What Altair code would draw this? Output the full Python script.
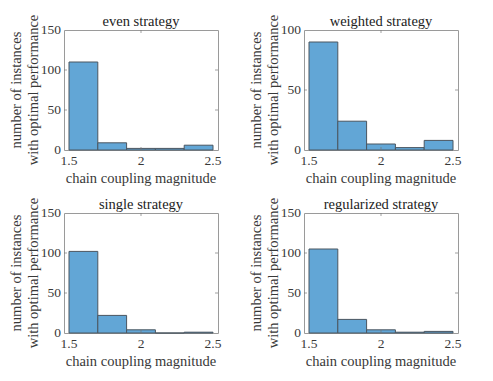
import altair as alt
import pandas as pd

bin_lo = [1.5, 1.7, 1.9, 2.1, 2.3]
bin_hi = [1.7, 1.9, 2.1, 2.3, 2.5]
even = [110, 9, 2, 2, 6]
weighted = [90, 24, 5, 2, 8]
single = [102, 22, 4, 0, 1]
regularized = [105, 17, 4, 1, 2]

titles = ["even strategy", "weighted strategy", "single strategy", "regularized strategy"]
series = [even, weighted, single, regularized]
y_max = [150, 100, 150, 150]
y_ticks = [[0, 50, 100, 150], [0, 50, 100], [0, 50, 100, 150], [0, 50, 100, 150]]
x_ticks = [1.5, 2.0, 2.5]
x_tick_labels = ["1.5", "2", "2.5"]
x_title = "chain coupling magnitude"
y_title = ["number of instances", "with optimal performance"]

FONT = "Liberation Serif"
TXT = "#383838"
W, H = 154, 120
LAB = 13.5
TIT = 14.5


def panel(title, counts, ymax, yt):
    df = pd.DataFrame({"lo": bin_lo, "hi": bin_hi, "count": counts})
    xscale = alt.Scale(domain=[1.5, 2.5], nice=False)
    yscale = alt.Scale(domain=[0, ymax], nice=False)
    x = alt.X("lo:Q", scale=xscale, axis=None)
    y = alt.Y("count:Q", scale=yscale, axis=None)
    bars = alt.Chart(df).mark_bar(color="#62a6d6", stroke="#4a5660", strokeWidth=1,
                                  opacity=1, orient="vertical").encode(x=x, x2="hi:Q", y=y, y2=alt.datum(0))
    tdf = pd.DataFrame({"t": [v for v in yt if v not in (0, ymax)]})
    tick_style = dict(color="#777", size=6, thickness=1, clip=True)
    lt = alt.Chart(tdf).mark_tick(orient="horizontal", **tick_style).encode(
        y=alt.Y("t:Q", scale=yscale, axis=None), x=alt.value(0))
    rt = alt.Chart(tdf).mark_tick(orient="horizontal", **tick_style).encode(
        y=alt.Y("t:Q", scale=yscale, axis=None), x=alt.value(W))
    xdf = pd.DataFrame({"t": [2.0]})
    bt = alt.Chart(xdf).mark_tick(orient="vertical", **tick_style).encode(
        x=alt.X("t:Q", scale=xscale, axis=None), y=alt.value(H))
    tt = alt.Chart(xdf).mark_tick(orient="vertical", **tick_style).encode(
        x=alt.X("t:Q", scale=xscale, axis=None), y=alt.value(0))
    ylab = alt.Chart(pd.DataFrame({"v": yt, "s": [str(v) for v in yt]})).mark_text(
        font=FONT, fontSize=LAB, color=TXT, align="right", baseline="middle").encode(
        y=alt.Y("v:Q", scale=yscale, axis=None), x=alt.value(-3), text="s:N")
    xlab = alt.Chart(pd.DataFrame({"v": x_ticks, "s": x_tick_labels})).mark_text(
        font=FONT, fontSize=LAB, color=TXT, align="center", baseline="top").encode(
        x=alt.X("v:Q", scale=xscale, axis=None), y=alt.value(H + 4), text="s:N")
    xt = alt.Chart(pd.DataFrame({"s": [x_title]})).mark_text(
        font=FONT, fontSize=TIT, color=TXT, align="center", baseline="top").encode(
        x=alt.value(W / 2), y=alt.value(H + 22), text="s:N")
    yt1 = alt.Chart(pd.DataFrame({"s": [y_title[0]]})).mark_text(
        font=FONT, fontSize=TIT, color=TXT, align="center", baseline="middle", angle=270).encode(
        x=alt.value(-47), y=alt.value(H / 2), text="s:N")
    yt2 = alt.Chart(pd.DataFrame({"s": [y_title[1]]})).mark_text(
        font=FONT, fontSize=TIT, color=TXT, align="center", baseline="middle", angle=270).encode(
        x=alt.value(-30), y=alt.value(H / 2), text="s:N")
    tl = alt.Chart(pd.DataFrame({"title": [title]})).mark_text(
        font=FONT, fontSize=TIT, color="#222", baseline="alphabetic", align="center").encode(
        text="title:N", x=alt.value(W / 2), y=alt.value(-4))
    return alt.layer(bars, lt, rt, bt, tt, ylab, xlab, xt, yt1, yt2, tl).properties(width=W, height=H)


p = [panel(t, s, m, yt) for t, s, m, yt in zip(titles, series, y_max, y_ticks)]
row1 = alt.hconcat(p[0], p[1], spacing=26)
row2 = alt.hconcat(p[2], p[3], spacing=26)
chart = alt.vconcat(row1, row2, spacing=10).properties(
    padding={"left": 0, "top": 5, "right": 0, "bottom": 0}).configure(
    font=FONT, background="white").configure_view(stroke="#9a9a9a", strokeWidth=1)

chart.save("out.html", embed_options={"renderer": "svg", "actions": False})
